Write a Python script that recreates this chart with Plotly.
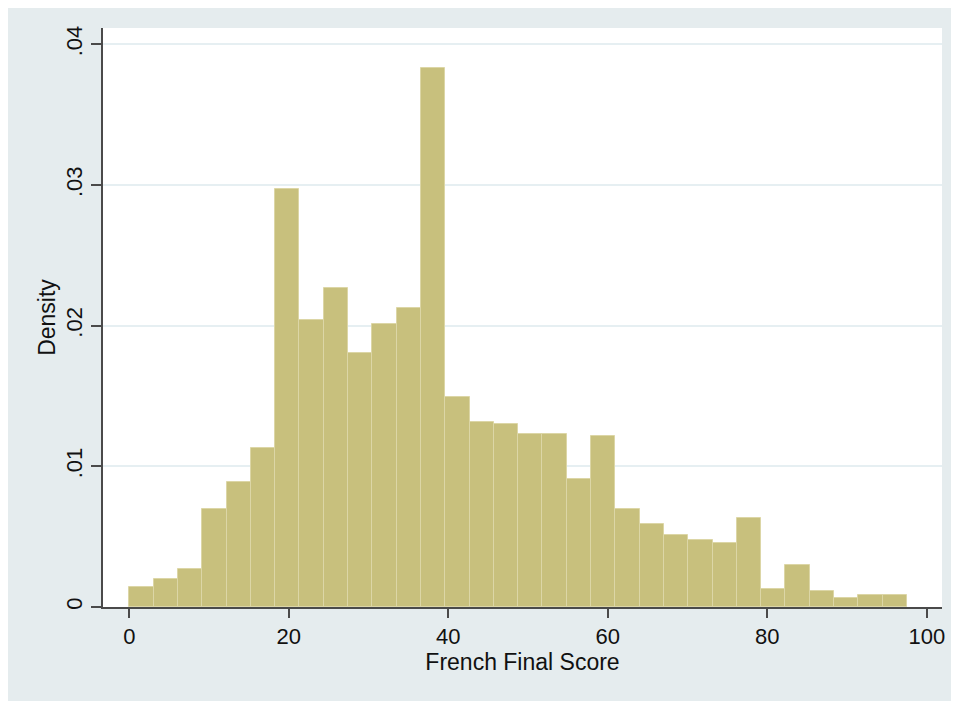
import plotly.graph_objects as go

# ---- data ----
bin_start = 0.0
bin_width = 97.5 / 32
density = [0.00145, 0.00197, 0.00268, 0.00699, 0.00890, 0.01127, 0.02973, 0.02038,
           0.02268, 0.01806, 0.02012, 0.02126, 0.03830, 0.01491, 0.01316, 0.01302,
           0.01233, 0.01233, 0.00907, 0.01214, 0.00699, 0.00592, 0.00509, 0.00476,
           0.00457, 0.00632, 0.00131, 0.00301, 0.00114, 0.00064, 0.00083, 0.00083]
x_ticks = [0, 20, 40, 60, 80, 100]
x_ticklabels = ["0", "20", "40", "60", "80", "100"]
y_ticks = [0, 0.01, 0.02, 0.03, 0.04]
y_ticklabels = ["0", ".01", ".02", ".03", ".04"]
x_title = "French Final Score"
y_title = "Density"

centers = [bin_start + (i + 0.5) * bin_width for i in range(len(density))]

FONT = "Liberation Sans, Arial, Helvetica, sans-serif"
OUTER = "#E5ECEE"
BAR = "#C8C07D"
BAR_LINE = "#DCD6A6"
GRID = "#E6EFF2"
AXIS = "#4A4A4A"

fig = go.Figure()
fig.add_trace(go.Bar(
    x=centers, y=density, width=bin_width,
    marker=dict(color=BAR, line=dict(color=BAR_LINE, width=1)),
    hoverinfo="x+y", showlegend=False,
))

fig.update_layout(
    width=951, height=693, autosize=False,
    paper_bgcolor=OUTER, plot_bgcolor="white",
    margin=dict(l=95, r=17, t=20, b=94),
    font=dict(family=FONT, size=22, color="#111111"),
    bargap=0,
    xaxis=dict(
        range=[-3.3, 101.9], tickvals=x_ticks, ticktext=x_ticklabels,
        showgrid=False, zeroline=False,
        showline=True, linecolor=AXIS, linewidth=1.5,
        ticks="outside", ticklen=9, tickwidth=1.5, tickcolor=AXIS,
        tickfont=dict(size=22),
        title=dict(text=x_title, font=dict(size=23), standoff=3),
    ),
    yaxis=dict(
        range=[0, 0.04116], tickvals=y_ticks, ticktext=y_ticklabels,
        tickangle=-90,
        showgrid=True, gridcolor=GRID, gridwidth=1.5,
        zeroline=False,
        showline=True, linecolor=AXIS, linewidth=1.5,
        ticks="outside", ticklen=10, tickwidth=1.5, tickcolor=AXIS,
        tickfont=dict(size=22),
        title=dict(text=y_title, font=dict(size=23), standoff=0),
    ),
)

fig.write_html("out.html")
